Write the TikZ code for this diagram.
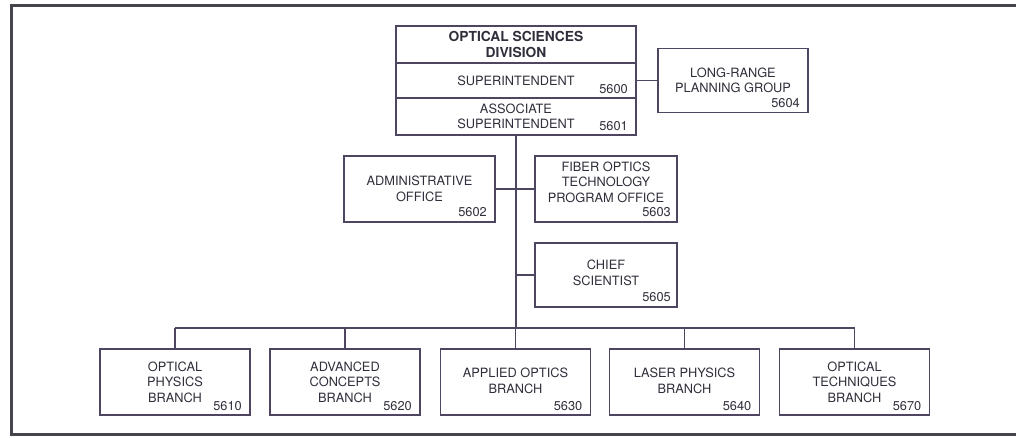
\documentclass[tikz,border=0pt]{standalone}
\usepackage{fontspec}
\setmainfont{TeX Gyre Heros}
\usetikzlibrary{positioning}

\definecolor{linecol}{RGB}{78,70,96}
\definecolor{textcol}{RGB}{48,46,58}
\definecolor{framecol}{RGB}{70,68,76}
\newcommand{\unitfont}{\fontsize{12.8}{15.5}\selectfont}
\newcommand{\titlefont}{\fontsize{13.8}{16.5}\selectfont\bfseries}

\tikzset{
  unit/.style={draw=linecol, line width=1.3pt, inner sep=0pt, outer sep=0pt,
    align=center, minimum width=150pt, minimum height=66pt},
  num/.style={anchor=south east, inner sep=0pt},
  link/.style={draw=linecol, line width=1.2pt}
}

\begin{document}
\begin{tikzpicture}[x=1pt,y=-1pt,every node/.style={text=textcol,font=\unitfont}]
\useasboundingbox (0,0) rectangle (1016,437);
% outer frame
\draw[framecol, line width=3pt] (1016,5) -- (11,5) -- (11,434) -- (1016,434);

% division head
\node[unit, minimum width=240pt, minimum height=37pt, font=\titlefont] (div) at (516,44.5) {OPTICAL SCIENCES\\DIVISION};
\node[unit, minimum width=240pt, minimum height=35pt, below=0pt of div] (sup) {SUPERINTENDENT};
\node[unit, minimum width=240pt, minimum height=37pt, below=0pt of sup] (assoc) {ASSOCIATE\\SUPERINTENDENT};
\node[num] at ([xshift=-8pt,yshift=4pt]sup.south east) {5600};
\node[num] at ([xshift=-8pt,yshift=4pt]assoc.south east) {5601};

% staff
\node[unit, minimum height=64pt] (lrp) at (733,80.5) {LONG-RANGE\\PLANNING GROUP};
\node[unit, minimum width=151pt] (admin) at (419.5,189) {ADMINISTRATIVE\\OFFICE};
\node[unit, minimum width=142pt, text depth=14pt] (fiber) at (606,189) {FIBER OPTICS\\TECHNOLOGY\\PROGRAM OFFICE};
\node[unit, minimum width=142pt, minimum height=64pt, text depth=5pt] (chief) at (606,275) {CHIEF\\SCIENTIST};
\node[num] at ([xshift=-8pt,yshift=5pt]lrp.south east) {5604};
\node[num] at ([xshift=-8pt,yshift=5pt]admin.south east) {5602};
\node[num] at ([xshift=-6pt,yshift=5pt]fiber.south east) {5603};
\node[num] at ([xshift=-6pt,yshift=5pt]chief.south east) {5605};

% branches
\node[unit] (b5610) at (175,382) {OPTICAL\\PHYSICS\\BRANCH};
\node[unit] (b5620) at (345,382) {ADVANCED\\CONCEPTS\\BRANCH};
\node[unit, text depth=3pt] (b5630) at (515.5,382) {APPLIED OPTICS\\BRANCH};
\node[unit, text depth=3pt] (b5640) at (684.5,382) {LASER PHYSICS\\BRANCH};
\node[unit] (b5670) at (854.5,382) {OPTICAL\\TECHNIQUES\\BRANCH};
\foreach \b in {5610,5620,5630,5640,5670}
  \node[num] at ([xshift=-8pt,yshift=4pt]b\b.south east) {\b};

% connectors
\coordinate (bus) at (516,328);
\draw[link] (sup.east) -- (lrp.west);
\draw[link] (assoc.south) -- (bus);
\draw[link] (admin.east) -- (fiber.west);
\draw[link] (chief.west) -- (chief.west -| bus);
\draw[link] (b5610.north |- bus) -- (b5670.north |- bus);
\foreach \b in {5610,5620,5630,5640,5670}
  \draw[link] (b\b.north) -- (b\b.north |- bus);
\end{tikzpicture}
\end{document}
